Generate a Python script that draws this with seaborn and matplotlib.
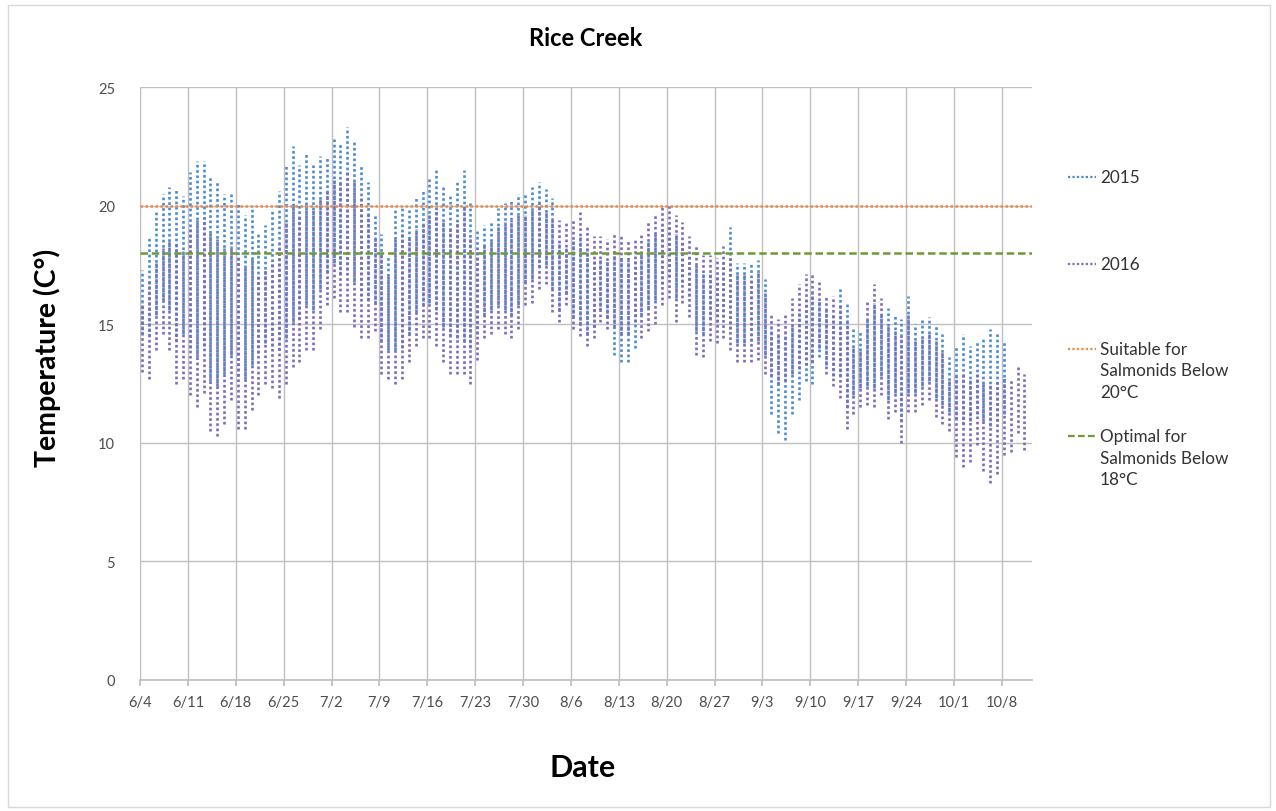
import numpy as np
import pandas as pd
import matplotlib
matplotlib.use("Agg")
import matplotlib.pyplot as plt
from matplotlib.lines import Line2D
from matplotlib.patches import Rectangle
import seaborn as sns

# ---------------- data (daily min / max temperature, day 0 = 6/4) ----------------
days = list(range(130))

hi_2015 = [17.3, 18.7, 19.8, 20.5, 20.8, 20.7, 20.4, 21.4, 21.9, 21.9,
           21.2, 21.0, 20.5, 20.5, 20.1, 19.6, 20.0, 18.9, 19.2, 19.8,
           20.6, 21.7, 22.5, 21.7, 22.2, 21.7, 22.1, 22.1, 22.8, 22.6,
           23.3, 22.7, 21.7, 21.0, 19.6, 18.8, 17.9, 19.8, 20.0, 19.8,
           20.4, 20.7, 21.2, 21.5, 20.8, 20.5, 21.0, 21.5, 20.1, 19.0,
           19.2, 19.3, 19.9, 20.1, 20.2, 20.5, 20.5, 20.8, 21.0, 20.7,
           20.3, 18.4, 18.3, 18.5, 18.8, 18.2, 17.8, 17.8, 17.7, 17.9,
           17.8, 17.7, 17.8, 18.0, 18.5, 18.8, 19.2, 19.2, 18.8, 18.5,
           17.9, 17.5, 17.1, 17.1, 17.0, 17.6, 19.1, 17.6, 17.6, 17.6,
           17.7, 16.9, 14.8, 14.5, 14.6, 15.0, 15.5, 16.0, 16.3, 16.0,
           15.6, 15.4, 16.5, 15.9, 14.8, 14.7, 15.2, 15.9, 15.4, 15.7,
           15.4, 15.2, 16.2, 15.0, 15.2, 15.3, 15.0, 14.6, 13.6, 14.1,
           14.6, 14.1, 14.3, 14.4, 14.8, 14.6, 14.3, np.nan, np.nan, np.nan]

lo_2015 = [14.6, 14.5, 15.4, 16.0, 15.6, 14.3, 14.6, 14.0, 13.6, 14.1,
           12.6, 12.4, 12.9, 13.7, 12.8, 12.7, 13.3, 13.8, 14.2, 14.1,
           13.9, 14.4, 15.1, 15.2, 15.8, 15.6, 16.5, 17.2, 17.6, 17.1,
           17.3, 16.8, 16.2, 16.0, 15.9, 14.3, 13.9, 13.9, 14.0, 14.6,
           15.5, 15.8, 15.9, 15.6, 14.9, 14.5, 14.4, 14.3, 14.0, 14.6,
           15.4, 15.6, 15.8, 15.6, 15.4, 15.8, 16.8, 16.9, 17.4, 17.5,
           16.5, 15.6, 16.3, 15.3, 15.0, 14.6, 14.9, 15.6, 15.3, 13.7,
           13.4, 13.4, 14.0, 15.4, 15.7, 16.0, 16.7, 17.0, 16.1, 16.8,
           16.2, 14.7, 14.6, 15.2, 15.1, 15.3, 14.8, 14.2, 14.2, 14.3,
           14.3, 13.7, 11.2, 10.4, 10.1, 11.2, 11.8, 12.6, 12.5, 13.6,
           13.3, 12.8, 12.8, 11.5, 12.0, 12.3, 12.4, 12.3, 12.8, 11.8,
           12.1, 10.9, 12.1, 12.1, 12.4, 12.6, 11.9, 11.6, 11.3, 11.0,
           10.8, 10.9, 11.2, 10.9, 10.7, 10.9, 11.2, np.nan, np.nan, np.nan]

hi_2016 = [15.9, 16.9, 17.6, 18.2, 18.6, 18.4, 18.1, 19.0, 19.4, 19.5,
           18.9, 18.6, 18.2, 18.3, 17.9, 17.5, 17.8, 17.1, 17.3, 17.7,
           18.4, 19.3, 20.0, 19.6, 20.1, 19.8, 20.3, 20.6, 21.1, 21.0,
           21.4, 21.0, 20.3, 19.7, 18.7, 17.9, 17.1, 18.6, 18.9, 18.7,
           19.0, 19.3, 19.6, 19.9, 19.3, 19.0, 19.4, 19.9, 18.7, 18.2,
           18.4, 18.5, 19.1, 19.3, 19.4, 19.7, 19.6, 19.9, 20.1, 19.8,
           19.5, 19.4, 19.3, 19.4, 19.8, 19.2, 18.7, 18.7, 18.6, 18.8,
           18.8, 18.6, 18.6, 18.8, 19.3, 19.6, 20.0, 20.0, 19.6, 19.3,
           18.7, 18.3, 17.9, 17.9, 17.8, 18.3, 17.8, 17.1, 17.1, 17.0,
           17.2, 16.3, 15.4, 15.2, 15.4, 16.1, 16.7, 17.1, 17.1, 16.8,
           16.2, 16.2, 15.8, 15.1, 14.1, 14.0, 16.0, 16.7, 16.1, 15.0,
           14.7, 14.5, 15.4, 14.3, 14.5, 14.6, 14.3, 13.9, 12.6, 12.8,
           12.9, 12.7, 12.9, 12.6, 12.5, 12.7, 12.8, 12.7, 13.3, 12.9]

lo_2016 = [13.0, 12.7, 13.9, 14.6, 13.9, 12.5, 12.7, 12.0, 11.5, 12.1,
           10.5, 10.3, 10.8, 11.8, 10.6, 10.6, 11.4, 12.0, 12.5, 12.3,
           11.9, 12.5, 13.2, 13.4, 13.9, 13.9, 14.8, 15.8, 16.1, 15.5,
           15.5, 14.9, 14.4, 14.4, 14.7, 12.9, 12.7, 12.5, 12.7, 13.4,
           14.1, 14.4, 14.4, 14.1, 13.4, 12.9, 12.9, 12.9, 12.5, 13.5,
           14.4, 14.6, 14.8, 14.6, 14.4, 14.8, 15.8, 15.9, 16.5, 16.7,
           15.5, 15.1, 15.8, 14.8, 14.5, 14.1, 14.4, 15.1, 14.8, 14.9,
           14.6, 14.6, 15.1, 14.4, 14.7, 15.0, 15.8, 16.1, 15.1, 15.9,
           15.3, 13.7, 13.6, 14.3, 14.2, 14.4, 13.9, 13.4, 13.4, 13.4,
           13.5, 12.9, 12.8, 12.5, 12.6, 12.9, 13.1, 13.3, 13.4, 14.0,
           12.9, 12.4, 11.9, 10.6, 11.2, 11.5, 11.6, 11.5, 12.0, 11.0,
           11.3, 10.0, 11.3, 11.3, 11.6, 11.8, 11.1, 10.8, 10.5, 9.4,
           9.0, 9.2, 9.9, 8.8, 8.3, 8.7, 9.5, 9.6, 10.4, 9.7]

tick_days = [0, 7, 14, 21, 28, 35, 42, 49, 56, 63, 70, 77, 84, 91, 98, 105, 112, 119, 126]
tick_labels = ["6/4", "6/11", "6/18", "6/25", "7/2", "7/9", "7/16", "7/23", "7/30",
               "8/6", "8/13", "8/20", "8/27", "9/3", "9/10", "9/17", "9/24", "10/1", "10/8"]
y_ticks = [0, 5, 10, 15, 20, 25]
suitable_limit = 20
optimal_limit = 18

# ---------------- long-form frame ----------------
def long_frame(lo, hi, year):
    rows = []
    for d, a, b in zip(days, lo, hi):
        if np.isnan(a) or np.isnan(b):
            continue
        rows.append({"day": d + 0.3, "temp": a, "unit": d, "year": year})
        rows.append({"day": d + 0.3, "temp": b, "unit": d, "year": year})
    return pd.DataFrame(rows)

df15 = long_frame(lo_2015, hi_2015, "2015")
df16 = long_frame(lo_2016, hi_2016, "2016")

# ---------------- style ----------------
sns.set_theme(style="white")
plt.rcParams["font.family"] = ["Lato", "DejaVu Sans"]

c15 = "#4A8BD0"
c16 = "#7E6BB8"
c_suit = "#EE8A45"
c_opt = "#6E9A35"
grid_c = "#BFBFBF"
txt_c = "#4D4D4D"

W, H = 1276, 812
fig = plt.figure(figsize=(W / 100, H / 100), dpi=100)
fig.patch.set_facecolor("white")
ax = fig.add_axes([140 / W, 1 - 681 / H, (1032 - 140) / W, (681 - 88) / H])

dot = (0, (1, 1))
sns.lineplot(data=df15, x="day", y="temp", units="unit", estimator=None,
             color=c15, lw=1.9, linestyle=dot, ax=ax, legend=False)
sns.lineplot(data=df16, x="day", y="temp", units="unit", estimator=None,
             color=c16, lw=1.9, linestyle=dot, ax=ax, legend=False)

ax.axhline(suitable_limit, color=c_suit, lw=1.8, linestyle=(0, (1, 1)), zorder=3)
ax.axhline(optimal_limit, color=c_opt, lw=1.8, linestyle=(0, (3, 1.5)), zorder=3)

ax.set_xlim(0, 130.4)
ax.set_ylim(0, 25)
ax.set_xticks(tick_days)
ax.set_xticklabels(tick_labels)
ax.set_yticks(y_ticks)
ax.grid(True, color=grid_c, lw=1)
ax.set_axisbelow(True)
for s in ["top", "right", "left"]:
    ax.spines[s].set_visible(False)
ax.spines["bottom"].set_color(grid_c)
ax.tick_params(axis="x", bottom=True, length=4, color=grid_c, pad=7, labelsize=10.5, labelcolor=txt_c)
ax.tick_params(axis="y", left=False, pad=12, labelsize=10.5, labelcolor=txt_c)
ax.set_xlabel("")
ax.set_ylabel("")

# titles
fig.text(586 / W, 1 - 38 / H, "Rice Creek", ha="center", va="center",
         fontsize=17, weight="bold", color="#000000")
fig.text(47 / W, 1 - 358 / H, "Temperature (C°)", ha="center", va="center",
         rotation=90, fontsize=20.5, weight="bold", color="#000000")
fig.text(583 / W, 1 - 768 / H, "Date", ha="center", va="center",
         fontsize=22, weight="bold", color="#000000")

# legend (manual, Excel style)
legend_items = [
    (178, c15, (0, (1, 1)), ["2015"]),
    (265, c16, (0, (1, 1)), ["2016"]),
    (350, c_suit, (0, (1, 1)), ["Suitable for", "Salmonids Below", "20°C"]),
    (437, c_opt, (0, (3, 1.5)), ["Optimal for", "Salmonids Below", "18°C"]),
]
for ypx, col, ls, lines in legend_items:
    fig.add_artist(Line2D([1068 / W, 1096 / W], [1 - ypx / H, 1 - ypx / H],
                          color=col, lw=1.6, linestyle=ls))
    for i, t in enumerate(lines):
        fig.text(1100 / W, 1 - (ypx + i * 21.5) / H, t, ha="left", va="center",
                 fontsize=12.3, color="#333333")

# chart border
fig.add_artist(Rectangle((8 / W, 4 / H), (1270 - 8) / W, (806 - 4) / H,
                         transform=fig.transFigure, fill=False,
                         edgecolor="#D9D9D9", lw=1))

fig.savefig("out.png", dpi=100, facecolor="white")
